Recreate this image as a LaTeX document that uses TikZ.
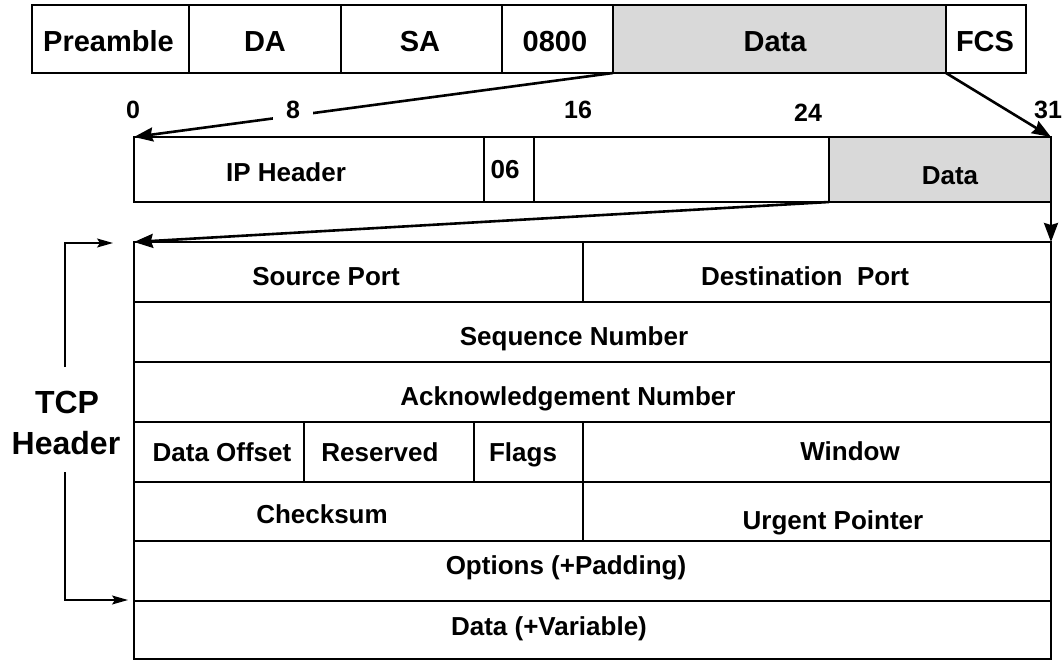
\documentclass[tikz,border=0pt]{standalone}
\usepackage{fontspec}
\setmainfont{Liberation Sans}
\usetikzlibrary{arrows.meta}
\definecolor{datagray}{RGB}{217,217,217}
\begin{document}
\begin{tikzpicture}[x=1pt,y=-1pt,
 cell/.style={draw=black, line width=2.8pt, inner sep=0pt, outer sep=0pt},
 shaded/.style={cell, fill=datagray},
 big/.style={font=\fontsize{29}{34}\selectfont\bfseries, inner sep=0pt, text height=20.8pt, text depth=0pt},
 txt/.style={font=\fontsize{26}{30}\selectfont\bfseries, inner sep=0pt, text height=18.6pt, text depth=0pt},
 num/.style={font=\fontsize{25}{30}\selectfont\bfseries, inner sep=0pt, text height=17.9pt, text depth=0pt},
 side/.style={font=\fontsize{32}{38}\selectfont\bfseries, inner sep=0pt, text height=22.9pt, text depth=0pt},
 link/.style={line width=2.6pt, -{Stealth[length=19pt,width=14pt,inset=2pt]}},
 brace/.style={line width=1.4pt, -{Stealth[length=16pt,width=9pt,inset=3pt]}}
]
\useasboundingbox (0,0) rectangle (1063,661);

% Ethernet frame
\node[cell, minimum width=157pt, minimum height=68pt] (pre) at (110.5,39) {};
\node[cell, minimum width=152pt, minimum height=68pt] (da) at (265,39) {};
\node[cell, minimum width=161pt, minimum height=68pt] (sa) at (421.5,39) {};
\node[cell, minimum width=111pt, minimum height=68pt] (et) at (557.5,39) {};
\node[shaded, minimum width=333pt, minimum height=68pt] (fdata) at (779.5,39) {};
\node[cell, minimum width=80pt, minimum height=68pt] (fcs) at (986,39) {};
\node[big] (tpre) at (108.5,41) {Preamble};
\node[big] (tda) at (265,41) {DA};
\node[big] (tsa) at (420,41) {SA};
\node[big] (tet) at (555,41) {0800};
\node[big] (tfd) at (775,41) {Data};
\node[big] (tfcs) at (985,41) {FCS};

% IP packet
\node[cell, minimum width=350pt, minimum height=65pt] (iph) at (309,169.5) {};
\node[cell, minimum width=50pt, minimum height=65pt] (proto) at (509,169.5) {};
\node[cell, minimum width=295pt, minimum height=65pt] (blank) at (681.5,169.5) {};
\node[shaded, minimum width=222pt, minimum height=65pt] (idata) at (940,169.5) {};
\node[txt] (tiph) at (286,172) {IP Header};
\node[txt] (tproto) at (505,169) {06};
\node[txt] (tidata) at (950,175) {Data};

% TCP segment
\node[cell, minimum width=449pt, minimum height=60pt] (sport) at (358.5,272) {};
\node[cell, minimum width=468pt, minimum height=60pt] (dport) at (817,272) {};
\node[cell, minimum width=917pt, minimum height=60pt] (seq) at (592.5,332) {};
\node[cell, minimum width=917pt, minimum height=60pt] (ack) at (592.5,392) {};
\node[cell, minimum width=170pt, minimum height=60pt] (doff) at (219,452) {};
\node[cell, minimum width=170pt, minimum height=60pt] (res) at (389,452) {};
\node[cell, minimum width=109pt, minimum height=60pt] (flags) at (528.5,452) {};
\node[cell, minimum width=468pt, minimum height=60pt] (win) at (817,452) {};
\node[cell, minimum width=449pt, minimum height=59pt] (cks) at (358.5,511.5) {};
\node[cell, minimum width=468pt, minimum height=59pt] (urg) at (817,511.5) {};
\node[cell, minimum width=917pt, minimum height=60pt] (opts) at (592.5,571) {};
\node[cell, minimum width=917pt, minimum height=58pt] (dvar) at (592.5,630) {};

\node[txt] (tsport) at (326,276) {Source Port};
\node[txt] (tdport) at (805,276) {Destination~~Port};
\node[txt] (tseq) at (574,336) {Sequence Number};
\node[txt] (tack) at (568,396) {Acknowledgement Number};
\node[txt] (tdoff) at (222,452) {Data Offset};
\node[txt] (tres) at (380,452) {Reserved};
\node[txt] (tflags) at (523,452) {Flags};
\node[txt] (twin) at (850,451) {Window};
\node[txt] (tcks) at (322,514) {Checksum};
\node[txt] (turg) at (833,520) {Urgent Pointer};
\node[txt] (topts) at (566,565) {Options (+Padding)};
\node[txt] (tdvar) at (549,626) {Data (+Variable)};

% connectors
\draw[link] (fdata.south west) -- (iph.north west);
\draw[link] (fcs.south west) -- (idata.north east);
\draw[link] (idata.south west) -- (sport.north west);
\draw[link] (idata.south east) -- (dport.north east);

% bit numbers
\node[num] (b0) at (133,110) {0};
\node[num, fill=white, inner xsep=13pt, inner ysep=3pt] (b8) at (293,110) {8};
\node[num] (b16) at (578,110) {16};
\node[num] (b24) at (808,113) {24};
\node[num] (b31) at (1048,110) {31};

% TCP header bracket
\node[side] (tcp1) at (67,402.5) {TCP};
\node[side] (tcp2) at (66,443) {Header};
\coordinate (bt) at (65,367);
\coordinate (bta) at (113,243);
\coordinate (bb) at (65,472);
\coordinate (bba) at (128,600);
\draw[brace] (bt) |- (bta);
\draw[brace] (bb) |- (bba);
\end{tikzpicture}
\end{document}
